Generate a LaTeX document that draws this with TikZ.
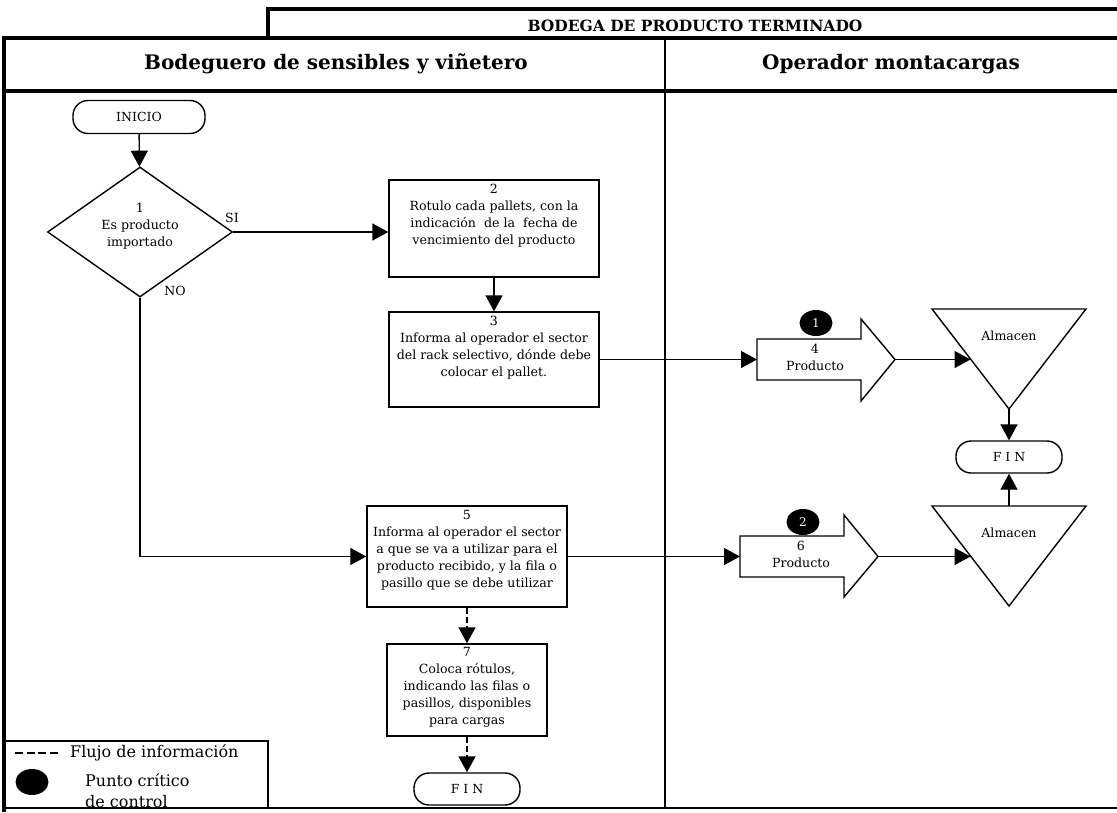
\documentclass[tikz,border=0pt]{standalone}
\usepackage{fontspec}
\setmainfont{DejaVu Serif}
\usetikzlibrary{arrows.meta,shapes.geometric,calc}

\begin{document}
\begin{tikzpicture}[x=1pt,y=-1pt,
  conn/.style={line width=1.4pt,-{Triangle[length=16pt,width=17pt]}},
  info/.style={conn,dash pattern=on 6pt off 3pt},
  frameline/.style={line width=4pt},
  thinline/.style={line width=1.4pt},
  stepbox/.style={draw,line width=1.4pt,inner sep=0pt},
  body/.style={font=\fontsize{12.6}{17}\selectfont,align=center,inner sep=0pt},
  term/.style={draw,line width=1.4pt,rounded corners=15pt,minimum width=106pt,
    minimum height=32pt,inner sep=0pt,font=\fontsize{12.5}{14}\selectfont},
  critico/.style={fill=black,ellipse,minimum width=33pt,minimum height=26pt,
    inner sep=0pt,text=white,font=\fontsize{12}{13}\selectfont},
  hdr/.style={font=\fontsize{20}{23}\selectfont\bfseries,inner sep=0pt},
  legendtext/.style={font=\fontsize{16}{18}\selectfont,inner sep=0pt,anchor=west}
]
\useasboundingbox (0,0) rectangle (1117,812);

% ---- swimlane frame ----
\draw[frameline] (268,7) -- (268,38);
\draw[frameline] (266,9) -- (1117,9);
\draw[frameline] (1117,38) -- (4,38) -- (4,812);
\draw[frameline] (4,91) -- (1117,91);
\draw[line width=1.6pt] (665,38) -- (665,808);
\draw[thinline] (4,808) -- (1117,808);

\node[font=\fontsize{15.5}{17}\selectfont\bfseries,inner sep=0pt] (title) at (695,26) {BODEGA DE PRODUCTO TERMINADO};
\node[hdr] (lane1) at (336,64) {Bodeguero de sensibles y viñetero};
\node[hdr] (lane2) at (891,64) {Operador montacargas};

% ---- left lane ----
\node[term,minimum width=132pt,minimum height=33pt] (ini) at (139,117) {INICIO};
\node[draw,diamond,line width=1.4pt,minimum width=185pt,minimum height=130pt,inner sep=0pt] (dec) at (140,232) {};
\node[body] (dect) at (140,226) {1\\Es producto\\importado};
\node[body] (si) at (232,218) {SI};
\node[body] (no) at (175,291) {NO};

\node[stepbox,minimum width=210pt,minimum height=97pt] (b2) at (494,228.5) {};
\node[body,anchor=north] (b2t) at ($(b2.north)+(0,5)$)
  {2\\Rotulo cada pallets, con la\\indicación\ \ de la\ \ fecha de\\vencimiento del producto};

\node[stepbox,minimum width=210pt,minimum height=95pt] (b3) at (494,359.5) {};
\node[body,anchor=north] (b3t) at ($(b3.north)+(0,5)$)
  {3\\Informa al operador el sector\\del rack selectivo, dónde debe\\colocar el pallet.};

\node[stepbox,minimum width=200pt,minimum height=101pt] (b5) at (467,556.5) {};
\node[body,anchor=north] (b5t) at ($(b5.north)+(0,5)$)
  {5\\Informa al operador el sector\\a que se va a utilizar para el\\producto recibido, y la fila o\\pasillo que se debe utilizar};

\node[stepbox,minimum width=160pt,minimum height=92pt] (b7) at (467,690) {};
\node[body,anchor=north] (b7t) at ($(b7.north)+(0,4)$)
  {7\\Coloca rótulos,\\indicando las filas o\\pasillos, disponibles\\para cargas};

\node[term] (fin2) at (467,789) {F I N};

% ---- right lane: transport arrows ----
\coordinate (a4w) at (757,359.5);
\coordinate (a4tip) at (895,359.5);
\draw[thinline] (757,339) -- (861,339) -- (861,319) -- (a4tip) -- (861,401) -- (861,380) -- (757,380) -- cycle;
\node[body] (a4t) at (815,357) {4\\Producto};
\node[critico] (pc1) at (816,323) {1};

\coordinate (a6w) at (740,556.5);
\coordinate (a6tip) at (878,556.5);
\draw[thinline] (740,536) -- (844,536) -- (844,515) -- (a6tip) -- (844,597) -- (844,577) -- (740,577) -- cycle;
\node[body] (a6t) at (801,554) {6\\Producto};
\node[critico] (pc2) at (803,522) {2};

% ---- storage triangles ----
\coordinate (t1a) at (932,309);
\coordinate (t1b) at (1086,309);
\coordinate (t1c) at (1009,409);
\draw[thinline] (t1a) -- (t1b) -- (t1c) -- cycle;
\coordinate (t1in) at ($(t1a)!0.5!(t1c)$);
\node[body] (alm1) at (1009,336) {Almacen};

\coordinate (t2a) at (932,506);
\coordinate (t2b) at (1086,506);
\coordinate (t2c) at (1009,606);
\draw[thinline] (t2a) -- (t2b) -- (t2c) -- cycle;
\coordinate (t2in) at ($(t2a)!0.5!(t2c)$);
\coordinate (t2top) at ($(t2a)!0.5!(t2b)$);
\node[body] (alm2) at (1009,533) {Almacen};

\node[term] (fin1) at (1009,457) {F I N};

% ---- connectors ----
\draw[conn] (ini) -- (dec);
\draw[conn] (dec.east) -- (dec.east -| b2.west);
\draw[conn] (b2) -- (b3);
\draw[conn] (dec.south) |- (b5.west);
\draw[conn] (b3.east) -- (a4w);
\draw[conn] (b5.east) -- (a6w);
\draw[info] (b5) -- (b7);
\draw[info] (b7) -- (fin2);
\draw[conn] (a4tip) -- (a4tip -| t1in);
\draw[conn] (a6tip) -- (a6tip -| t2in);
\draw[conn] (t1c) -- (fin1.north);
\draw[conn] (t2top) -- (fin1.south);

% ---- legend ----
\draw[thinline] (4,741) -- (268,741) -- (268,808);
\coordinate (lgd1) at (15,753);
\coordinate (lgd2) at (58,753);
\draw[line width=1.3pt,dash pattern=on 8pt off 3.5pt] (lgd1) -- (lgd2);
\node[legendtext] (lg1) at (70,753) {Flujo de información};
\node[critico] (lgpc) at (32,782) {};
\node[legendtext] (lg2) at (85,780) {Punto crítico};
\node[legendtext] (lg3) at (85,802) {de control};
\end{tikzpicture}
\end{document}
